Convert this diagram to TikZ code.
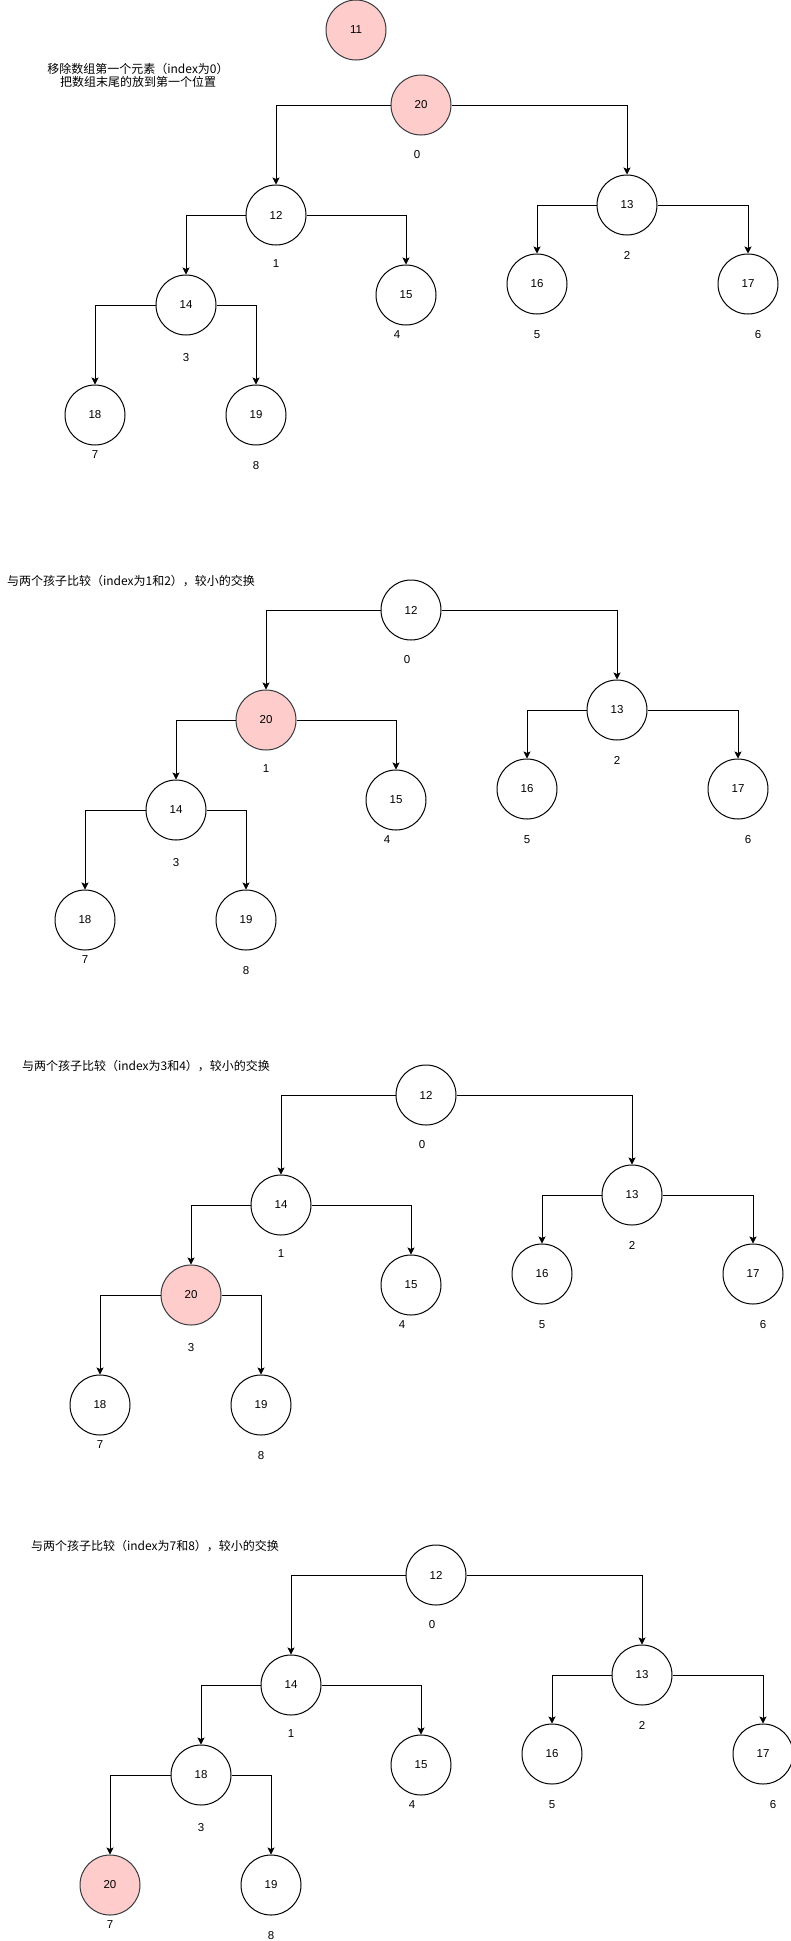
\documentclass[tikz,border=0pt]{standalone}
\usepackage{fontspec}
\setmainfont{Liberation Sans}
\newfontfamily\cjk{Noto Sans CJK SC}
\usetikzlibrary{arrows.meta}
\definecolor{fg}{RGB}{0,0,0}
\definecolor{hotfill}{RGB}{255,204,204}
\definecolor{hotline}{RGB}{54,57,61}
\tikzset{
  every picture/.style={fg, x=1pt, y=-1pt, line width=1pt,
    >={Stealth[length=7pt,width=7pt,inset=1.5pt]}},
  every node/.style={font=\fontsize{11.5}{13}\selectfont},
  % Knoten
  knot/.style={circle, draw=fg, fill=white, minimum size=60pt, inner sep=0pt},
  hot/.style={knot, fill=hotfill, draw=hotline},
  idx/.style={inner sep=0pt},
  % Verbindungen
  link/.style={->, line width=0.9pt},
  note/.style={font=\cjk\fontsize{12}{13.5}\selectfont, align=center, inner sep=0pt},
}
% ein Heap: #1 Praefix, #2 Wurzel, #3 Werte, #4 markierter Index
\newcommand{\heaptree}[4]{%
  \begin{scope}[shift={#2}]
    \foreach \x/\y/\lx/\ly [count=\k from 0] in
      {0/0/-4/50, -145/110/-145/159, 206/100/206/150, -235/200/-235/253,
       -15/190/-24/230, 116/179/116/230, 327/179/337/230,
       -326/310/-326/350, -165/310/-165/361}{
      \pgfmathtruncatemacro{\val}{{#3}[\k]}
      \ifnum\k=#4 \def\st{hot}\else\def\st{knot}\fi
      \node[\st] (#1\k) at (\x,\y) {\val};
      \node[idx] (#1i\k) at (\lx,\ly) {\k};
    }
    \foreach \p/\c/\s in {0/1/west, 0/2/east, 1/3/west, 1/4/east,
                          2/5/west, 2/6/east, 3/7/west, 3/8/east}
      \draw[link] (#1\p.\s) -| (#1\c.north);
  \end{scope}}

\begin{document}
\begin{tikzpicture}
  \fill[white] (0,0) rectangle (791,1941);
  \useasboundingbox (0,0) rectangle (791,1941);
  % entferntes Element
  \node[hot] (out) at (356,30) {11};
  % Schritt 1
  \node[note] (t1) at (138,75.5) {移除数组第一个元素（index为0）\\把数组末尾的放到第一个位置};
  \heaptree{a}{(421,105)}{20,12,13,14,15,16,17,18,19}{0}
  % Schritt 2
  \node[note] (t2) at (131,581) {与两个孩子比较（index为1和2），较小的交换};
  \heaptree{b}{(411,610)}{12,20,13,14,15,16,17,18,19}{1}
  % Schritt 3
  \node[note] (t3) at (146,1066) {与两个孩子比较（index为3和4），较小的交换};
  \heaptree{c}{(426,1095)}{12,14,13,20,15,16,17,18,19}{3}
  % Schritt 4
  \node[note] (t4) at (155,1546) {与两个孩子比较（index为7和8），较小的交换};
  \heaptree{d}{(436,1575)}{12,14,13,18,15,16,17,20,19}{7}
\end{tikzpicture}
\end{document}
